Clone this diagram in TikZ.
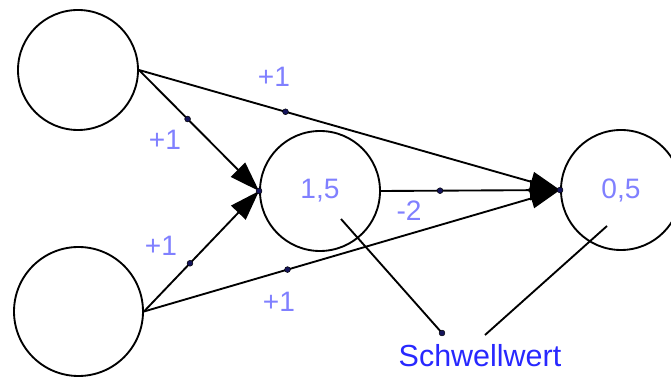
\documentclass[tikz,border=0pt]{standalone}
\usepackage{fontspec}
\setmainfont{Liberation Sans}
\usetikzlibrary{arrows.meta}

\definecolor{wcol}{RGB}{128,128,255}
\definecolor{tcol}{RGB}{40,40,255}
\definecolor{navy}{RGB}{20,20,90}

\begin{document}
\begin{tikzpicture}[x=0.03cm, y=-0.03cm,
        neuron/.style={draw, circle, line width=1.6pt, inner sep=0pt, text=wcol, font=\fontsize{24}{28}\selectfont},
        wt/.style={text=wcol, inner sep=0pt, font=\fontsize{24}{28}\selectfont},
        pt/.style={circle, draw=black, fill=navy, inner sep=0pt, minimum size=5pt, line width=0.4pt},
        link/.style={line width=1.6pt},
        arrow/.style={link, -{Triangle[length=0.9cm, width=0.6cm]}}
    ]
    \useasboundingbox (0,0) rectangle (671,377);

    \node[neuron, minimum size=3.6cm] (in1) at (78,70) {};
    \node[neuron, minimum size=3.87cm] (in2) at (78.5,311.5) {};
    \node[neuron, minimum size=3.6cm] (hid) at (320,191) {1,5};
    \node[neuron, minimum size=3.6cm] (out) at (621,190) {0,5};

    \draw[arrow] (in1.east) -- node[pt, pos=0.348] {} (out.west);
    \draw[arrow] (in1.east) -- node[pt, pos=0.405] {} (hid.west);
    \draw[arrow] (in2.east) -- node[pt, pos=0.40] {} (hid.west);
    \draw[arrow] (in2.east) -- node[pt, pos=0.345] {} (out.west);
    \draw[arrow] (hid.east) -- node[pt, pos=0.33] {} (out.west);
    \node[pt] at (hid.west) {};
    \node[pt] at (out.west) {};

    \node[wt] (w13) at (274,77) {+1};
    \node[wt] (w12) at (165,140) {+1};
    \node[wt] (w22) at (161,246) {+1};
    \node[wt] (w23) at (279,302) {+1};
    \node[wt] (w34) at (409,211) {-2};

    % threshold
    \node[wt, text=tcol, font=\fontsize{26}{30}\selectfont] (thr) at (480,356) {Schwellwert};
    \coordinate (s1) at (341,219);
    \coordinate (s1e) at (442,333);
    \coordinate (s2) at (607,226);
    \coordinate (s2e) at (485,335);
    \draw[link] (s1) -- (s1e) node[pt] {};
    \draw[link] (s2) -- (s2e);
\end{tikzpicture}
\end{document}
